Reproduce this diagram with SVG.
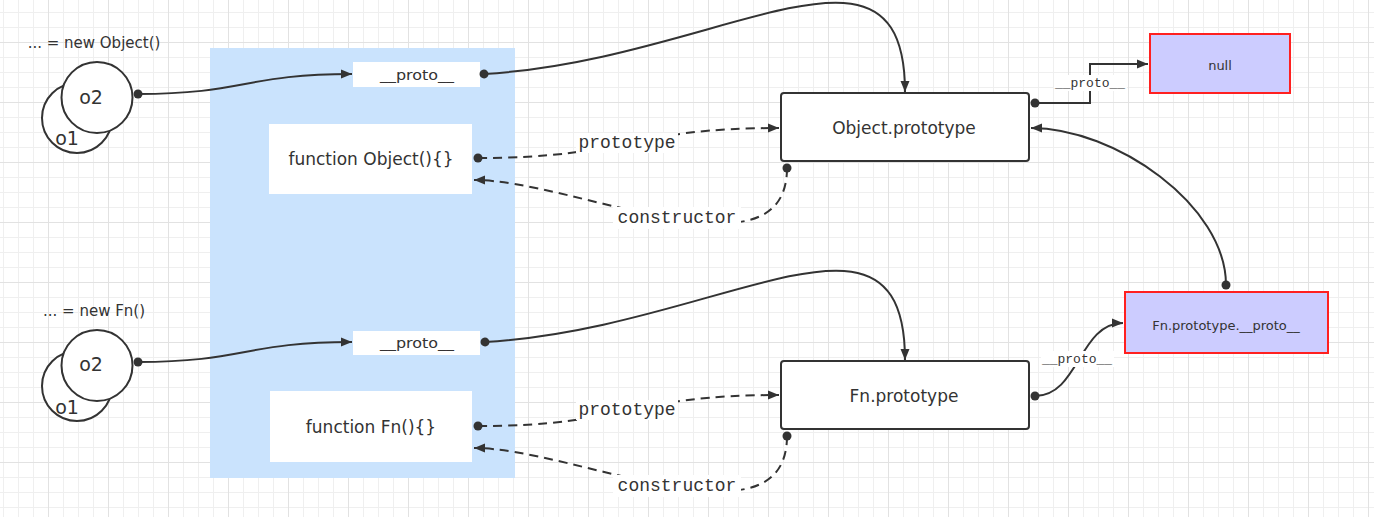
<svg xmlns="http://www.w3.org/2000/svg" width="1374" height="517" viewBox="0 0 1374 517">
<defs>
<pattern id="grid" patternUnits="userSpaceOnUse" x="48" y="42" width="60" height="60">
<path d="M15.5,0V60M30.5,0V60M45.5,0V60M0,15.5H60M0,30.5H60M0,45.5H60" stroke="#efefef" stroke-width="1" fill="none"/>
<path d="M0.5,0V60M0,0.5H60" stroke="#e2e2e2" stroke-width="1" fill="none"/>
</pattern>
<marker id="arrow" markerUnits="userSpaceOnUse" markerWidth="12" markerHeight="10" refX="11" refY="5" orient="auto">
<path d="M0,0.5 L11,5 L0,9.5 z" fill="#333"/>
</marker>
<marker id="dot" markerUnits="userSpaceOnUse" markerWidth="12" markerHeight="12" refX="6" refY="6" orient="auto">
<circle cx="6" cy="6" r="4.5" fill="#333"/>
</marker>
</defs>
<style>
.node{fill:#fff;stroke:#333;stroke-width:2}
.box{fill:#fff}
.red{fill:#ccccff;stroke:#ff2020;stroke-width:2}
.t{font-family:"DejaVu Sans","Liberation Sans",sans-serif;fill:#333;text-anchor:middle;dominant-baseline:central}
.lbl{font-family:"Liberation Mono","DejaVu Sans Mono",monospace;fill:#333;text-anchor:middle;dominant-baseline:central}
.c{fill:none;stroke:#333;stroke-width:2}
.d{fill:none;stroke:#333;stroke-width:2;stroke-dasharray:9,6}
.lb{fill:#fff}
</style>
<rect width="1374" height="517" fill="#fff"/>
<rect width="1374" height="517" fill="url(#grid)"/>

<g id="panel">
<rect x="210" y="48" width="305" height="430" fill="#cae3fd"/>
</g>

<g id="label-new-object"><text class="t" x="94" y="43" font-size="15">... = new Object()</text></g>
<g id="label-new-fn"><text class="t" x="94" y="311" font-size="15">... = new Fn()</text></g>

<g id="o1-top"><circle class="node" cx="77" cy="118" r="35"/><text class="t" x="67" y="138" font-size="19">o1</text></g>
<g id="o2-top"><circle class="node" cx="97" cy="97.5" r="35.5"/><text class="t" x="91" y="97" font-size="19">o2</text></g>
<g id="o1-bottom"><circle class="node" cx="77" cy="386" r="35"/><text class="t" x="67" y="407" font-size="19">o1</text></g>
<g id="o2-bottom"><circle class="node" cx="97" cy="365.5" r="35.5"/><text class="t" x="91" y="364" font-size="19">o2</text></g>

<g id="proto-object"><rect class="box" x="353" y="62" width="127" height="25"/><text class="t" x="417" y="75" font-size="14" textLength="74" lengthAdjust="spacingAndGlyphs">__proto__</text></g>
<g id="function-object"><rect class="box" x="269" y="124" width="203" height="70"/><text class="t" x="371" y="159" font-size="17">function Object(){}</text></g>
<g id="proto-fn"><rect class="box" x="353" y="331" width="127" height="24"/><text class="t" x="417" y="343" font-size="14" textLength="74" lengthAdjust="spacingAndGlyphs">__proto__</text></g>
<g id="function-fn"><rect class="box" x="270" y="391" width="202" height="71"/><text class="t" x="371" y="427" font-size="17">function Fn(){}</text></g>

<g id="object-prototype"><rect class="node" x="781" y="93" width="248" height="68" rx="3"/><text class="t" x="904" y="128" font-size="17">Object.prototype</text></g>
<g id="fn-prototype"><rect class="node" x="781" y="361" width="248" height="68" rx="3"/><text class="t" x="904" y="396" font-size="17">Fn.prototype</text></g>
<g id="null"><rect class="red" x="1150" y="34" width="140" height="59"/><text class="t" x="1220" y="65" font-size="13">null</text></g>
<g id="fn-proto-proto"><rect class="red" x="1125" y="292" width="203" height="61"/><text class="t" x="1226" y="325" font-size="13">Fn.prototype.__proto__</text></g>

<g id="connectors">
<path class="c" d="M138,94 C245,94 245,74 352,74" marker-start="url(#dot)" marker-end="url(#arrow)"/>
<path class="c" d="M484,74 C720,60 905,-90 905,92" marker-start="url(#dot)" marker-end="url(#arrow)"/>
<path class="c" d="M138,362 C245,362 245,342 352,342" marker-start="url(#dot)" marker-end="url(#arrow)"/>
<path class="c" d="M485,342 C721,328 905,178 905,360" marker-start="url(#dot)" marker-end="url(#arrow)"/>
<path class="c" d="M1035,103 H1090 V64 H1148" marker-start="url(#dot)" marker-end="url(#arrow)"/>
<path class="c" d="M1226,285 C1226,205 1115,128 1031,128" marker-start="url(#dot)" marker-end="url(#arrow)"/>
<path class="c" d="M1035,396 C1079,396 1079,323 1123,323" marker-start="url(#dot)" marker-end="url(#arrow)"/>
<path class="d" d="M478,158 C628,158 628,128 779,128" marker-start="url(#dot)" marker-end="url(#arrow)"/>
<path class="d" d="M787,168 C787,285 574,180 474,180" marker-start="url(#dot)" marker-end="url(#arrow)"/>
<path class="d" d="M478,426 C628,426 628,395 779,395" marker-start="url(#dot)" marker-end="url(#arrow)"/>
<path class="d" d="M787,436 C787,553 574,448 474,448" marker-start="url(#dot)" marker-end="url(#arrow)"/>
<rect class="lb" x="1054" y="75" width="73" height="16"/>
<text class="lbl" x="1090" y="83" font-size="13">__proto__</text>
<rect class="lb" x="1041" y="351" width="73" height="16"/>
<text class="lbl" x="1077" y="359" font-size="13">__proto__</text>
<rect class="lb" x="576" y="133" width="102" height="20"/>
<text class="lbl" x="627" y="143" font-size="18">prototype</text>
<rect class="lb" x="613" y="207" width="128" height="22"/>
<text class="lbl" x="677" y="218" font-size="18">constructor</text>
<rect class="lb" x="576" y="400" width="102" height="20"/>
<text class="lbl" x="627" y="410" font-size="18">prototype</text>
<rect class="lb" x="613" y="475" width="128" height="22"/>
<text class="lbl" x="677" y="486" font-size="18">constructor</text>
</g>
</svg>
